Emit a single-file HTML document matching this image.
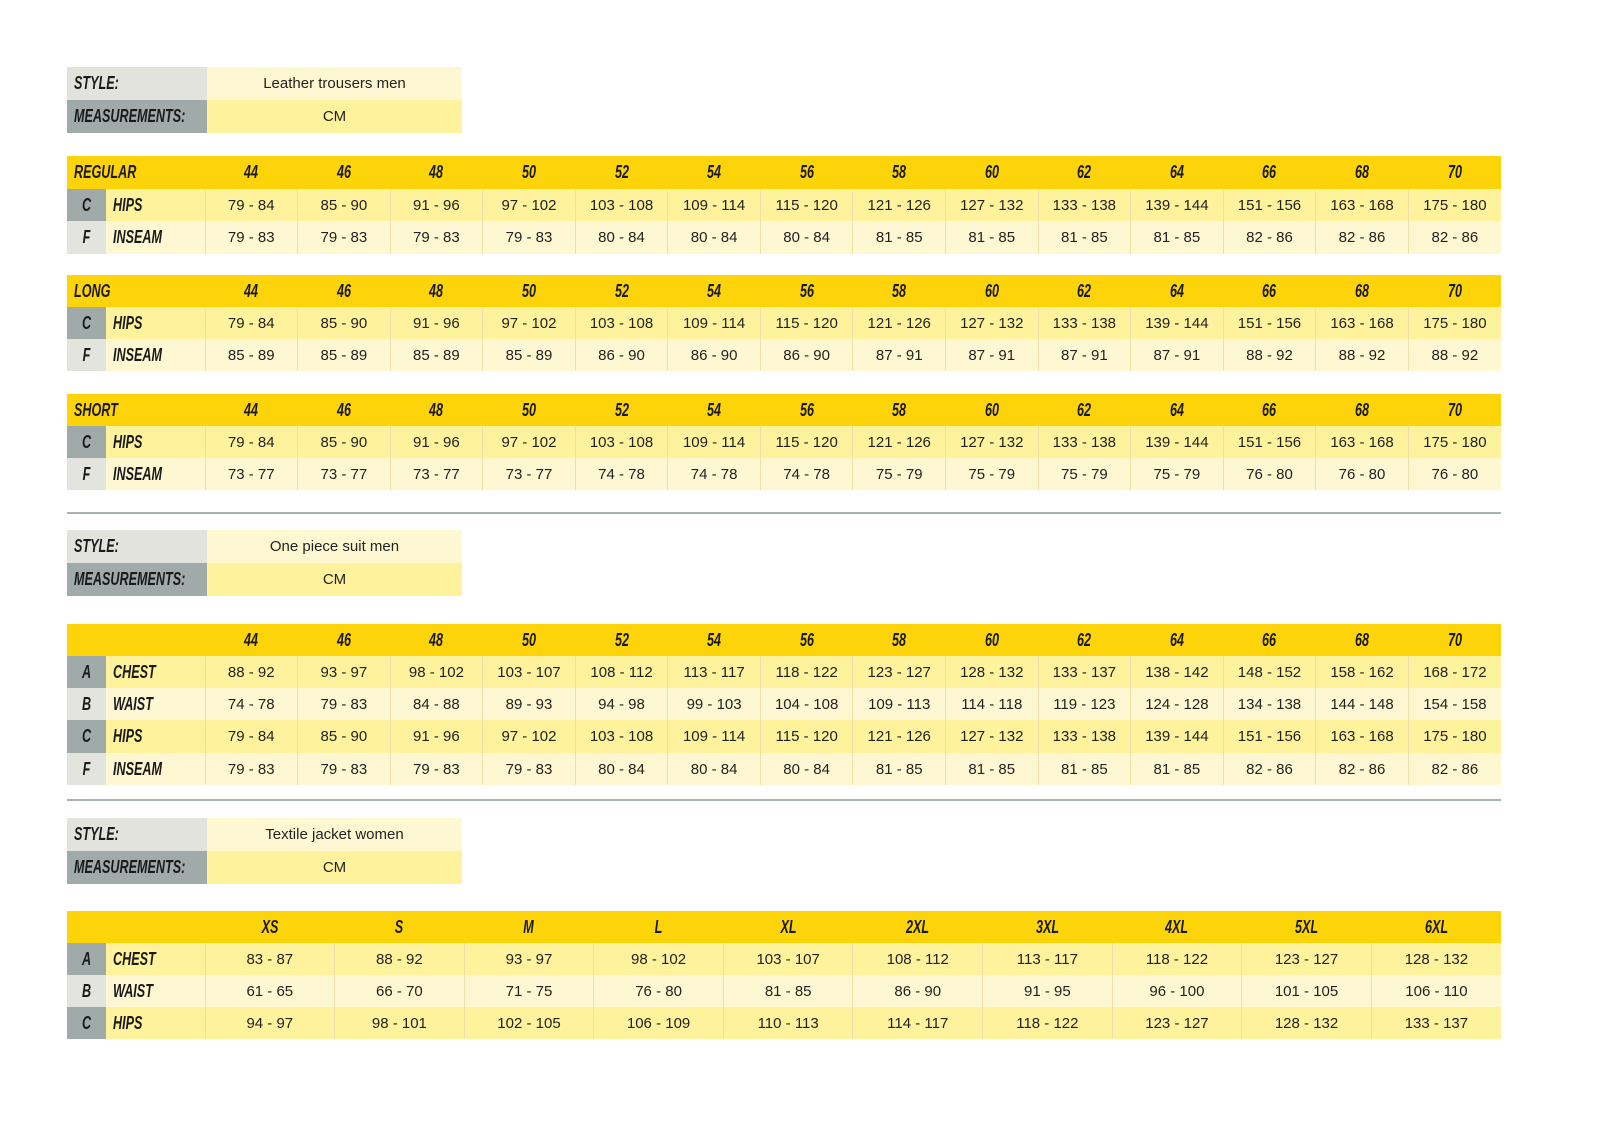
<!DOCTYPE html>
<html><head><meta charset="utf-8"><style>
body{margin:0;width:1600px;height:1131px;background:#fff;position:relative;font-family:"Liberation Sans",sans-serif;}
.b{position:absolute;left:67px;}
table{border-collapse:collapse;table-layout:fixed;}
td{padding:0;text-align:center;font-size:15px;color:#222;white-space:nowrap;overflow:hidden;}
.h{font-family:"Liberation Sans Narrow","Liberation Sans",sans-serif;font-weight:bold;font-style:italic;font-size:18px;color:#1a1a1a;overflow:visible;}
.h span{display:inline-block;transform:scaleX(0.7);transform-origin:center;}
.nm span{transform-origin:left;}
tr.hd td{background:#FDD40A;}
tr.o td{background:#FEF29C;}
tr.e td{background:#FEF8D2;}
tr.o td.d,tr.e td.d{border-left:1px solid #f0dfa8;}
td.ld{background:#A0AAA8 !important;}
td.ll{background:#E4E4DF !important;}
td.nm{text-align:left;padding-left:7px;}
.st td{height:33px;}
.line{position:absolute;left:67px;width:1434px;height:2px;background:#A9B3B2;}
</style></head><body>

<table class="b st" style="top:67px;width:395px"><col style="width:140px"><col>
<tr><td class="h nm" style="background:#E3E3DE"><span>STYLE:</span></td><td style="background:#FEF8D2">Leather trousers men</td></tr>
<tr><td class="h nm" style="background:#A0AAA8"><span>MEASUREMENTS:</span></td><td style="background:#FEF29C">CM</td></tr></table>

<table class="b" style="top:156px;width:1434px"><col style="width:39px"><col style="width:99px"><col span="14">
<tr class="hd" style="height:33px"><td class="h nm" colspan="2"><span>REGULAR</span></td><td class="h"><span>44</span></td><td class="h"><span>46</span></td><td class="h"><span>48</span></td><td class="h"><span>50</span></td><td class="h"><span>52</span></td><td class="h"><span>54</span></td><td class="h"><span>56</span></td><td class="h"><span>58</span></td><td class="h"><span>60</span></td><td class="h"><span>62</span></td><td class="h"><span>64</span></td><td class="h"><span>66</span></td><td class="h"><span>68</span></td><td class="h"><span>70</span></td></tr>
<tr class="o" style="height:32px"><td class="h ld"><span>C</span></td><td class="h nm"><span>HIPS</span></td><td class="d">79 - 84</td><td class="d">85 - 90</td><td class="d">91 - 96</td><td class="d">97 - 102</td><td class="d">103 - 108</td><td class="d">109 - 114</td><td class="d">115 - 120</td><td class="d">121 - 126</td><td class="d">127 - 132</td><td class="d">133 - 138</td><td class="d">139 - 144</td><td class="d">151 - 156</td><td class="d">163 - 168</td><td class="d">175 - 180</td></tr>
<tr class="e" style="height:33px"><td class="h ll"><span>F</span></td><td class="h nm"><span>INSEAM</span></td><td class="d">79 - 83</td><td class="d">79 - 83</td><td class="d">79 - 83</td><td class="d">79 - 83</td><td class="d">80 - 84</td><td class="d">80 - 84</td><td class="d">80 - 84</td><td class="d">81 - 85</td><td class="d">81 - 85</td><td class="d">81 - 85</td><td class="d">81 - 85</td><td class="d">82 - 86</td><td class="d">82 - 86</td><td class="d">82 - 86</td></tr></table>

<table class="b" style="top:275px;width:1434px"><col style="width:39px"><col style="width:99px"><col span="14">
<tr class="hd" style="height:32px"><td class="h nm" colspan="2"><span>LONG</span></td><td class="h"><span>44</span></td><td class="h"><span>46</span></td><td class="h"><span>48</span></td><td class="h"><span>50</span></td><td class="h"><span>52</span></td><td class="h"><span>54</span></td><td class="h"><span>56</span></td><td class="h"><span>58</span></td><td class="h"><span>60</span></td><td class="h"><span>62</span></td><td class="h"><span>64</span></td><td class="h"><span>66</span></td><td class="h"><span>68</span></td><td class="h"><span>70</span></td></tr>
<tr class="o" style="height:32px"><td class="h ld"><span>C</span></td><td class="h nm"><span>HIPS</span></td><td class="d">79 - 84</td><td class="d">85 - 90</td><td class="d">91 - 96</td><td class="d">97 - 102</td><td class="d">103 - 108</td><td class="d">109 - 114</td><td class="d">115 - 120</td><td class="d">121 - 126</td><td class="d">127 - 132</td><td class="d">133 - 138</td><td class="d">139 - 144</td><td class="d">151 - 156</td><td class="d">163 - 168</td><td class="d">175 - 180</td></tr>
<tr class="e" style="height:32px"><td class="h ll"><span>F</span></td><td class="h nm"><span>INSEAM</span></td><td class="d">85 - 89</td><td class="d">85 - 89</td><td class="d">85 - 89</td><td class="d">85 - 89</td><td class="d">86 - 90</td><td class="d">86 - 90</td><td class="d">86 - 90</td><td class="d">87 - 91</td><td class="d">87 - 91</td><td class="d">87 - 91</td><td class="d">87 - 91</td><td class="d">88 - 92</td><td class="d">88 - 92</td><td class="d">88 - 92</td></tr></table>

<table class="b" style="top:394px;width:1434px"><col style="width:39px"><col style="width:99px"><col span="14">
<tr class="hd" style="height:32px"><td class="h nm" colspan="2"><span>SHORT</span></td><td class="h"><span>44</span></td><td class="h"><span>46</span></td><td class="h"><span>48</span></td><td class="h"><span>50</span></td><td class="h"><span>52</span></td><td class="h"><span>54</span></td><td class="h"><span>56</span></td><td class="h"><span>58</span></td><td class="h"><span>60</span></td><td class="h"><span>62</span></td><td class="h"><span>64</span></td><td class="h"><span>66</span></td><td class="h"><span>68</span></td><td class="h"><span>70</span></td></tr>
<tr class="o" style="height:32px"><td class="h ld"><span>C</span></td><td class="h nm"><span>HIPS</span></td><td class="d">79 - 84</td><td class="d">85 - 90</td><td class="d">91 - 96</td><td class="d">97 - 102</td><td class="d">103 - 108</td><td class="d">109 - 114</td><td class="d">115 - 120</td><td class="d">121 - 126</td><td class="d">127 - 132</td><td class="d">133 - 138</td><td class="d">139 - 144</td><td class="d">151 - 156</td><td class="d">163 - 168</td><td class="d">175 - 180</td></tr>
<tr class="e" style="height:32px"><td class="h ll"><span>F</span></td><td class="h nm"><span>INSEAM</span></td><td class="d">73 - 77</td><td class="d">73 - 77</td><td class="d">73 - 77</td><td class="d">73 - 77</td><td class="d">74 - 78</td><td class="d">74 - 78</td><td class="d">74 - 78</td><td class="d">75 - 79</td><td class="d">75 - 79</td><td class="d">75 - 79</td><td class="d">75 - 79</td><td class="d">76 - 80</td><td class="d">76 - 80</td><td class="d">76 - 80</td></tr></table>

<div class="line" style="top:512px"></div>

<table class="b st" style="top:530px;width:395px"><col style="width:140px"><col>
<tr><td class="h nm" style="background:#E3E3DE"><span>STYLE:</span></td><td style="background:#FEF8D2">One piece suit men</td></tr>
<tr><td class="h nm" style="background:#A0AAA8"><span>MEASUREMENTS:</span></td><td style="background:#FEF29C">CM</td></tr></table>

<table class="b" style="top:624px;width:1434px"><col style="width:39px"><col style="width:99px"><col span="14">
<tr class="hd" style="height:32px"><td colspan="2"></td><td class="h"><span>44</span></td><td class="h"><span>46</span></td><td class="h"><span>48</span></td><td class="h"><span>50</span></td><td class="h"><span>52</span></td><td class="h"><span>54</span></td><td class="h"><span>56</span></td><td class="h"><span>58</span></td><td class="h"><span>60</span></td><td class="h"><span>62</span></td><td class="h"><span>64</span></td><td class="h"><span>66</span></td><td class="h"><span>68</span></td><td class="h"><span>70</span></td></tr>
<tr class="o" style="height:32px"><td class="h ld"><span>A</span></td><td class="h nm"><span>CHEST</span></td><td class="d">88 - 92</td><td class="d">93 - 97</td><td class="d">98 - 102</td><td class="d">103 - 107</td><td class="d">108 - 112</td><td class="d">113 - 117</td><td class="d">118 - 122</td><td class="d">123 - 127</td><td class="d">128 - 132</td><td class="d">133 - 137</td><td class="d">138 - 142</td><td class="d">148 - 152</td><td class="d">158 - 162</td><td class="d">168 - 172</td></tr>
<tr class="e" style="height:32px"><td class="h ll"><span>B</span></td><td class="h nm"><span>WAIST</span></td><td class="d">74 - 78</td><td class="d">79 - 83</td><td class="d">84 - 88</td><td class="d">89 - 93</td><td class="d">94 - 98</td><td class="d">99 - 103</td><td class="d">104 - 108</td><td class="d">109 - 113</td><td class="d">114 - 118</td><td class="d">119 - 123</td><td class="d">124 - 128</td><td class="d">134 - 138</td><td class="d">144 - 148</td><td class="d">154 - 158</td></tr>
<tr class="o" style="height:33px"><td class="h ld"><span>C</span></td><td class="h nm"><span>HIPS</span></td><td class="d">79 - 84</td><td class="d">85 - 90</td><td class="d">91 - 96</td><td class="d">97 - 102</td><td class="d">103 - 108</td><td class="d">109 - 114</td><td class="d">115 - 120</td><td class="d">121 - 126</td><td class="d">127 - 132</td><td class="d">133 - 138</td><td class="d">139 - 144</td><td class="d">151 - 156</td><td class="d">163 - 168</td><td class="d">175 - 180</td></tr>
<tr class="e" style="height:32px"><td class="h ll"><span>F</span></td><td class="h nm"><span>INSEAM</span></td><td class="d">79 - 83</td><td class="d">79 - 83</td><td class="d">79 - 83</td><td class="d">79 - 83</td><td class="d">80 - 84</td><td class="d">80 - 84</td><td class="d">80 - 84</td><td class="d">81 - 85</td><td class="d">81 - 85</td><td class="d">81 - 85</td><td class="d">81 - 85</td><td class="d">82 - 86</td><td class="d">82 - 86</td><td class="d">82 - 86</td></tr></table>

<div class="line" style="top:799px"></div>

<table class="b st" style="top:818px;width:395px"><col style="width:140px"><col>
<tr><td class="h nm" style="background:#E3E3DE"><span>STYLE:</span></td><td style="background:#FEF8D2">Textile jacket women</td></tr>
<tr><td class="h nm" style="background:#A0AAA8"><span>MEASUREMENTS:</span></td><td style="background:#FEF29C">CM</td></tr></table>

<table class="b" style="top:911px;width:1434px"><col style="width:39px"><col style="width:99px"><col span="10">
<tr class="hd" style="height:32px"><td colspan="2"></td><td class="h"><span>XS</span></td><td class="h"><span>S</span></td><td class="h"><span>M</span></td><td class="h"><span>L</span></td><td class="h"><span>XL</span></td><td class="h"><span>2XL</span></td><td class="h"><span>3XL</span></td><td class="h"><span>4XL</span></td><td class="h"><span>5XL</span></td><td class="h"><span>6XL</span></td></tr>
<tr class="o" style="height:32px"><td class="h ld"><span>A</span></td><td class="h nm"><span>CHEST</span></td><td class="d">83 - 87</td><td class="d">88 - 92</td><td class="d">93 - 97</td><td class="d">98 - 102</td><td class="d">103 - 107</td><td class="d">108 - 112</td><td class="d">113 - 117</td><td class="d">118 - 122</td><td class="d">123 - 127</td><td class="d">128 - 132</td></tr>
<tr class="e" style="height:32px"><td class="h ll"><span>B</span></td><td class="h nm"><span>WAIST</span></td><td class="d">61 - 65</td><td class="d">66 - 70</td><td class="d">71 - 75</td><td class="d">76 - 80</td><td class="d">81 - 85</td><td class="d">86 - 90</td><td class="d">91 - 95</td><td class="d">96 - 100</td><td class="d">101 - 105</td><td class="d">106 - 110</td></tr>
<tr class="o" style="height:32px"><td class="h ld"><span>C</span></td><td class="h nm"><span>HIPS</span></td><td class="d">94 - 97</td><td class="d">98 - 101</td><td class="d">102 - 105</td><td class="d">106 - 109</td><td class="d">110 - 113</td><td class="d">114 - 117</td><td class="d">118 - 122</td><td class="d">123 - 127</td><td class="d">128 - 132</td><td class="d">133 - 137</td></tr></table>

</body></html>
